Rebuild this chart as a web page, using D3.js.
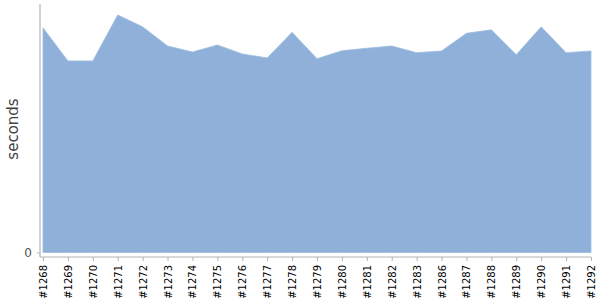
<!DOCTYPE html>
<html>
<head>
<meta charset="utf-8">
<script src="https://cdn.jsdelivr.net/npm/d3@7"></script>
<style>
  body { margin: 0; background: #fff; }
  svg { display: block; }
</style>
</head>
<body>
<svg id="chart" width="600" height="300"></svg>
<script>
const categories = ["#1268","#1269","#1270","#1271","#1272","#1273","#1274","#1275","#1276","#1277","#1278","#1279","#1280","#1281","#1282","#1283","#1286","#1287","#1288","#1289","#1290","#1291","#1292"];
const seconds = [90.4,77.1,77.1,95.6,90.8,83.1,80.7,83.5,79.9,78.3,88.6,78.0,81.2,82.2,83.1,80.4,81.1,88.2,89.6,79.6,90.8,80.4,81.1];
const yTicks = [0];
const yTickLabels = ["0"];
const yLabel = "seconds";

const svg = d3.select("#chart");
const x = d3.scalePoint().domain(categories).range([43, 591]);
const y = d3.scaleLinear().domain([0, 100]).range([252.5, 4]);

const data = categories.map((c, i) => ({c, v: seconds[i]}));

svg.append("path")
  .datum(data)
  .attr("fill", "#8fb1d9")
  .attr("stroke", "#9dbce0")
  .attr("stroke-width", 0.8)
  .attr("d", d3.area().x(d => x(d.c)).y0(y(0)).y1(d => y(d.v)));

// axis lines
svg.append("line").attr("x1", 40).attr("x2", 40).attr("y1", 4).attr("y2", 257)
  .attr("stroke", "#b4b4b4").attr("stroke-width", 1.2);
svg.append("line").attr("x1", 40).attr("x2", 591).attr("y1", 257).attr("y2", 257)
  .attr("stroke", "#b4b4b4").attr("stroke-width", 1.2);

const xAxis = svg.append("g").attr("transform", "translate(0,257)")
  .call(d3.axisBottom(x).tickSize(4).tickSizeOuter(0));
xAxis.select(".domain").remove();
xAxis.selectAll(".tick line").attr("stroke", "#b4b4b4");
xAxis.selectAll(".tick text")
  .attr("transform", "rotate(-90)")
  .attr("x", -8).attr("y", 0).attr("dy", "0.35em")
  .attr("text-anchor", "end")
  .attr("font-family", "DejaVu Sans, sans-serif")
  .attr("font-size", 10)
  .attr("fill", "#000");

const yAxis = svg.append("g").attr("transform", "translate(40,0)")
  .call(d3.axisLeft(y).tickValues(yTicks).tickFormat((d, i) => yTickLabels[i]).tickSize(3).tickPadding(5));
yAxis.select(".domain").remove();
yAxis.selectAll(".tick line").attr("stroke", "#b4b4b4");
yAxis.selectAll(".tick text")
  .attr("font-family", "DejaVu Sans, sans-serif")
  .attr("font-size", 12)
  .attr("fill", "#555");

svg.append("text")
  .attr("transform", "translate(18,129) rotate(-90)")
  .attr("text-anchor", "middle")
  .attr("font-family", "DejaVu Sans, sans-serif")
  .attr("font-size", 15)
  .attr("fill", "#444")
  .text(yLabel);
</script>
</body>
</html>
